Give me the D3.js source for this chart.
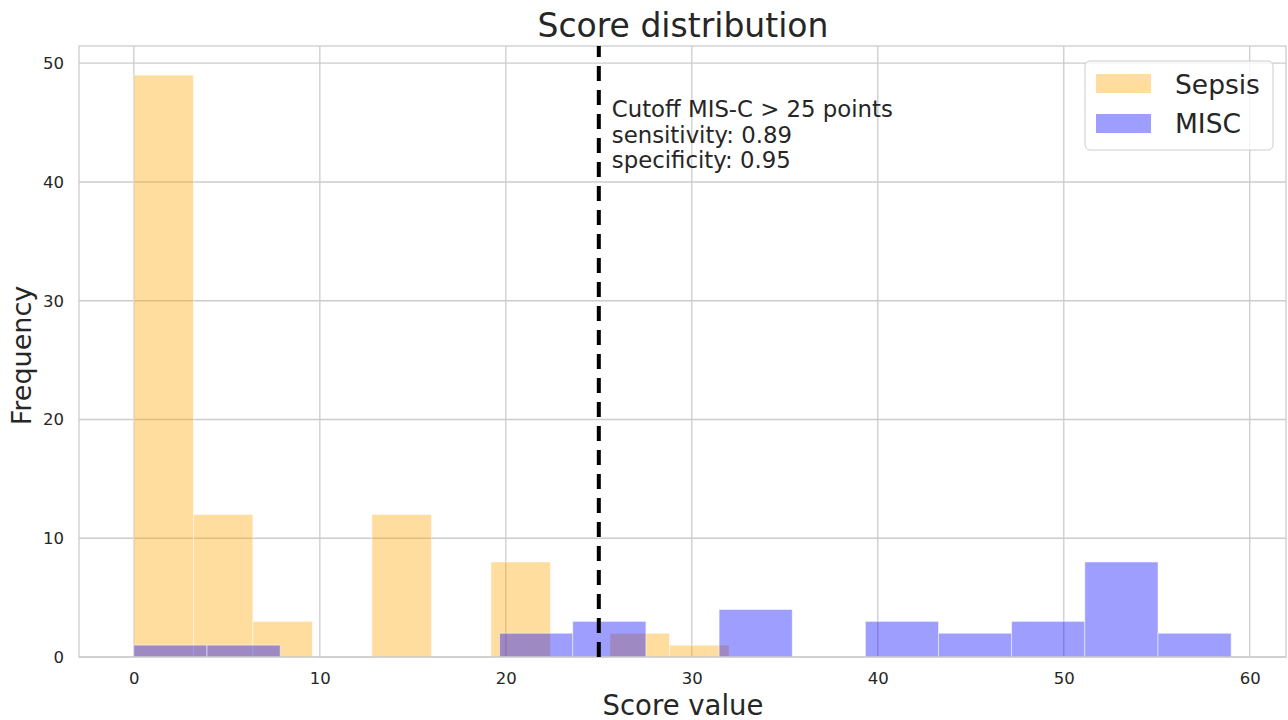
<!DOCTYPE html>
<html>
<head>
<meta charset="utf-8">
<script src="https://cdn.jsdelivr.net/npm/d3@7"></script>
<style>
  html, body { margin: 0; padding: 0; background: #fff; }
  svg { display: block; font-family: "DejaVu Sans", sans-serif; }
</style>
</head>
<body>
<svg id="chart" width="1288" height="720"></svg>
<script>
// ---- data ----
const sepsisEdges = [0, 3.2, 6.4, 9.6, 12.8, 16, 19.2, 22.4, 25.6, 28.8, 32];
const sepsisCounts = [49, 12, 3, 0, 12, 0, 8, 0, 2, 1];
const miscEdges = [0, 3.933, 7.867, 11.8, 15.733, 19.667, 23.6, 27.533, 31.467, 35.4, 39.333, 43.267, 47.2, 51.133, 55.067, 59];
const miscCounts = [1, 1, 0, 0, 0, 2, 3, 0, 4, 0, 3, 2, 3, 8, 2];
const xTicks = [0, 10, 20, 30, 40, 50, 60];
const yTicks = [0, 10, 20, 30, 40, 50];
const cutoff = 25;
const annotationLines = ["Cutoff MIS-C > 25 points", "sensitivity: 0.89", "specificity: 0.95"];
const seriesNames = ["Sepsis", "MISC"];
const seriesColors = ["#FFA500", "#0000FF"];
const seriesAlpha = 0.38;

// ---- layout ----
const L = 79, R = 1286, T = 46, B = 657;
const svg = d3.select("#chart");
const x = d3.scaleLinear().domain([-2.95, 61.95]).range([L, R]);
const y = d3.scaleLinear().domain([0, 51.45]).range([B, T]);
const textColor = "#262626";
const gridColor = "#cccccc";

// grid
const g = svg.append("g");
g.selectAll("line.vg").data(xTicks).join("line")
  .attr("x1", d => x(d)).attr("x2", d => x(d)).attr("y1", T).attr("y2", B)
  .attr("stroke", gridColor).attr("stroke-width", 1.3);
g.selectAll("line.hg").data(yTicks).join("line")
  .attr("x1", L).attr("x2", R).attr("y1", d => y(d)).attr("y2", d => y(d))
  .attr("stroke", gridColor).attr("stroke-width", 1.3);

// bars
function drawHist(edges, counts, color) {
  const bins = counts.map((c, i) => ({x0: edges[i], x1: edges[i + 1], c}));
  svg.append("g").selectAll("rect").data(bins.filter(b => b.c > 0)).join("rect")
    .attr("x", d => x(d.x0)).attr("width", d => x(d.x1) - x(d.x0))
    .attr("y", d => y(d.c)).attr("height", d => y(0) - y(d.c))
    .attr("fill", color).attr("fill-opacity", seriesAlpha)
    .attr("stroke", "#ffffff").attr("stroke-opacity", 0.6).attr("stroke-width", 0.8);
}
drawHist(sepsisEdges, sepsisCounts, seriesColors[0]);
drawHist(miscEdges, miscCounts, seriesColors[1]);

// frame
svg.append("rect").attr("x", L).attr("y", T).attr("width", R - L).attr("height", B - T)
  .attr("fill", "none").attr("stroke", gridColor).attr("stroke-width", 1.3);

// axes labels (ticks)
const xAxis = d3.axisBottom(x).tickValues(xTicks).tickSize(0).tickPadding(15);
const xa = svg.append("g").attr("transform", `translate(0,${B})`).call(xAxis);
xa.select(".domain").remove();
xa.selectAll("text").attr("font-size", 16.5).attr("fill", textColor).attr("font-family", "DejaVu Sans");

const yAxis = d3.axisLeft(y).tickValues(yTicks).tickSize(0).tickPadding(15);
const ya = svg.append("g").attr("transform", `translate(${L},0)`).call(yAxis);
ya.select(".domain").remove();
ya.selectAll("text").attr("font-size", 16.5).attr("fill", textColor).attr("font-family", "DejaVu Sans");

// cutoff line
svg.append("line")
  .attr("x1", x(cutoff)).attr("x2", x(cutoff)).attr("y1", B).attr("y2", T)
  .attr("stroke", "#000").attr("stroke-width", 4).attr("stroke-dasharray", "15,9");

// annotation
const ann = svg.append("text").attr("x", x(cutoff) + 13).attr("y", 117)
  .attr("font-size", 22.8).attr("fill", textColor);
annotationLines.forEach((t, i) => {
  ann.append("tspan").attr("x", x(cutoff) + 13).attr("dy", i === 0 ? 0 : 25.5).text(t);
});

// title and axis titles
svg.append("text").attr("x", 683).attr("y", 37).attr("text-anchor", "middle")
  .attr("font-size", 33).attr("fill", textColor).text("Score distribution");
svg.append("text").attr("x", 683).attr("y", 715).attr("text-anchor", "middle")
  .attr("font-size", 27.5).attr("fill", textColor).text("Score value");
svg.append("text").attr("transform", `translate(31,${(T + B) / 2 + 4}) rotate(-90)`)
  .attr("text-anchor", "middle").attr("font-size", 27).attr("fill", textColor).text("Frequency");

// legend
const lg = svg.append("g");
lg.append("rect").attr("x", 1085).attr("y", 61).attr("width", 188).attr("height", 89)
  .attr("rx", 5).attr("fill", "#fff").attr("fill-opacity", 0.8)
  .attr("stroke", "#cccccc").attr("stroke-width", 1);
seriesNames.forEach((n, i) => {
  lg.append("rect").attr("x", 1096).attr("y", 74 + i * 40).attr("width", 55).attr("height", 19)
    .attr("fill", seriesColors[i]).attr("fill-opacity", seriesAlpha);
  lg.append("text").attr("x", 1175).attr("y", 94 + i * 39).attr("font-size", 26.5)
    .attr("fill", textColor).text(n);
});
</script>
</body>
</html>
